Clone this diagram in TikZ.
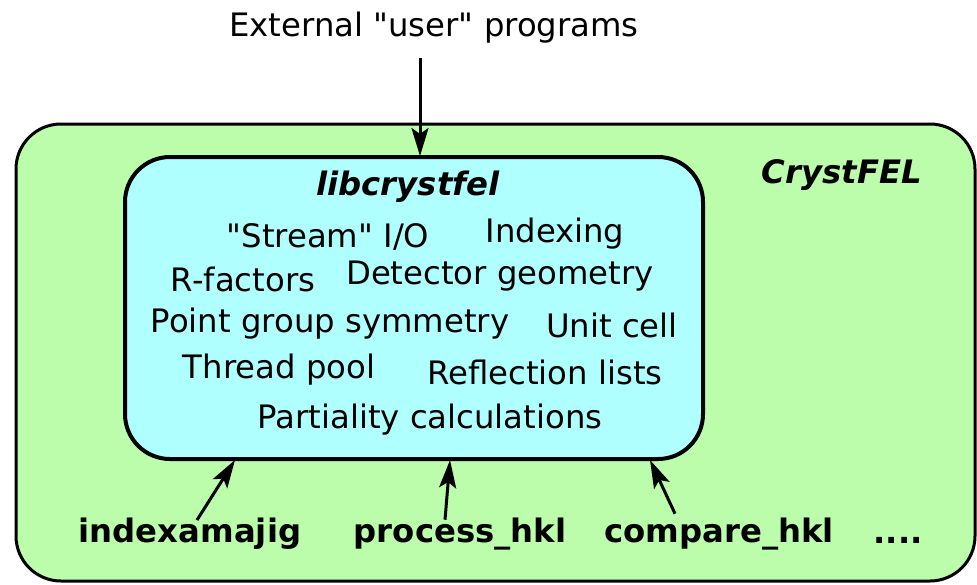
\documentclass[tikz,border=0pt]{standalone}
\usepackage{fontspec}
\usetikzlibrary{arrows.meta}
\setmainfont{DejaVu Sans}
\definecolor{crystgreen}{RGB}{187,253,170}
\definecolor{libcyan}{RGB}{176,255,255}
\newcommand{\dq}{\XeTeXglyph\XeTeXcharglyph"22\relax}
\tikzset{
  item/.style={inner sep=0pt,font=\fontsize{32.3}{38}\selectfont},
  prog/.style={inner sep=0pt,font=\fontsize{32.3}{38}\selectfont\bfseries},
  title/.style={inner sep=0pt,font=\fontsize{32.3}{38}\selectfont\bfseries\itshape},
  feed/.style={-{Stealth[length=28pt,width=17pt,inset=6pt]},line width=3pt}
}
\begin{document}
\begin{tikzpicture}[x=1pt,y=-1pt]
            \useasboundingbox (0,0) rectangle (977,584);
            \draw[fill=crystgreen,line width=3pt,rounded corners=45pt] (16,124) rectangle (975,581);
            \draw[fill=libcyan,line width=4pt,rounded corners=45pt] (125,157) rectangle (703,459);
            \node (user) at (434,28) [item] {External \dq user\dq\ programs};
            \coordinate (userend) at (420,58);
            \coordinate (libtop) at (420,156);
            \draw[feed] (userend) -- (libtop);
            \node (lib) at (408,187) [title] {libcrystfel};
            \node (cryst) at (842,175) [title] {CrystFEL};
            \node (stream) at (328,237) [item] {\dq Stream\dq\ I/O};
            \node (index) at (555,234) [item] {Indexing};
            \node (rfac) at (243,279) [item] {R-factors};
            \node (geom) at (500,276) [item] {Detector geometry};
            \node (pg) at (330,324) [item] {Point group symmetry};
            \node (cell) at (612,325) [item] {Unit cell};
            \node (pool) at (279,370) [item] {Thread pool};
            \node (refl) at (545,372) [item] {Reflection lists};
            \node (part) at (430,420) [item] {Partiality calculations};
            \node (idx) at (190,534) [prog] {indexamajig};
            \node (proc) at (460,534) [prog] {process\_hkl};
            \node (comp) at (719,534) [prog] {compare\_hkl};
            \node (more) at (898,540) [prog] {....};
            \coordinate (a1) at (235,460);
            \coordinate (a2) at (450,460);
            \coordinate (a3) at (650,460);
            \draw[feed] (idx.north) ++(7,2) -- (a1);
            \draw[feed] (proc.north) ++(-15,2) -- (a2);
            \draw[feed] (comp.north) ++(-44,-4) -- (a3);
        \end{tikzpicture}
\end{document}
